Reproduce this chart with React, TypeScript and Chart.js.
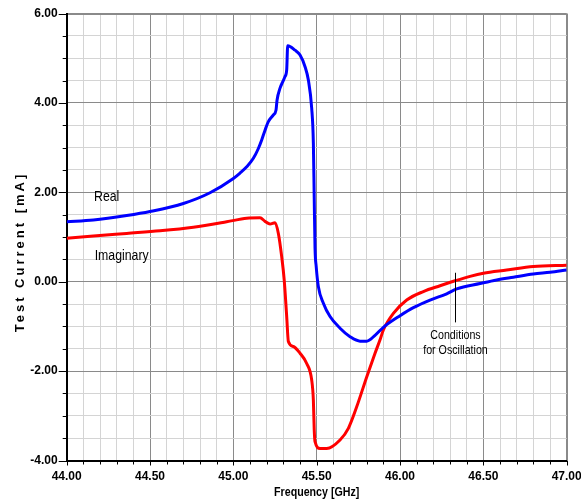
import React, { useEffect, useRef } from 'react';
import { Chart, registerables } from 'chart.js';
Chart.register(...registerables);

// Frequency axis [GHz]
const xMin = 44.0;
const xMax = 47.0;
const xStep = 0.1;
const xLabelStep = 0.5;
// Current axis [mA]
const yMin = -4.0;
const yMax = 6.0;
const yStep = 0.5;
const yLabelStep = 2.0;

// Real part
const realFreq = [44.00, 44.16, 44.36, 44.50, 44.70, 44.86, 45.00, 45.04, 45.08, 45.12, 45.15, 45.17, 45.19, 45.21, 45.24, 45.256, 45.262, 45.28, 45.296, 45.31, 45.32, 45.326, 45.37, 45.40, 45.43, 45.45, 45.47, 45.48, 45.485, 45.49, 45.497, 45.51, 45.54, 45.58, 45.64, 45.70, 45.76, 45.80, 45.85, 45.90, 46.00, 46.08, 46.18, 46.28, 46.34, 46.48, 46.58, 46.68, 46.80, 46.90, 47.00];
const realVals = [1.34, 1.38, 1.48, 1.57, 1.75, 1.99, 2.31, 2.43, 2.57, 2.76, 2.98, 3.17, 3.39, 3.58, 3.73, 3.84, 4.06, 4.33, 4.47, 4.59, 4.74, 5.28, 5.18, 5.07, 4.81, 4.51, 3.88, 3.10, 1.90, 0.75, 0.34, -0.11, -0.48, -0.78, -1.04, -1.23, -1.33, -1.33, -1.20, -1.02, -0.76, -0.58, -0.41, -0.27, -0.16, -0.04, 0.04, 0.10, 0.17, 0.21, 0.26];

// Imaginary part
const imagFreq = [44.00, 44.16, 44.36, 44.56, 44.76, 44.96, 45.08, 45.16, 45.19, 45.22, 45.25, 45.27, 45.29, 45.305, 45.32, 45.33, 45.36, 45.40, 45.44, 45.47, 45.48, 45.485, 45.49, 45.52, 45.56, 45.64, 45.69, 45.74, 45.80, 45.85, 45.88, 45.90, 45.96, 46.04, 46.14, 46.24, 46.33, 46.42, 46.50, 46.64, 46.80, 47.00];
const imagVals = [0.97, 1.02, 1.08, 1.14, 1.22, 1.34, 1.42, 1.43, 1.35, 1.29, 1.32, 1.08, 0.56, 0.04, -0.78, -1.34, -1.45, -1.60, -1.83, -2.20, -2.65, -3.30, -3.58, -3.73, -3.73, -3.54, -3.28, -2.80, -2.13, -1.60, -1.30, -1.08, -0.71, -0.41, -0.22, -0.09, 0.02, 0.12, 0.19, 0.26, 0.34, 0.37];

// Annotations (data coordinates)
const realLabel = { text: 'Real', f: 44.24, v: 1.90 };
const imagLabel = { text: 'Imaginary', f: 44.33, v: 0.575 };
const condLines = ['Conditions', 'for Oscillation'];
const condF = 46.33;
const condLineTop = 0.20;
const condLineBottom = -0.91;
const condTextV = [-1.21, -1.53];
const xTitle = 'Frequency [GHz]';
const yTitle = 'Test Current [mA]';

const SANS = "'Liberation Sans', Arial, sans-serif";
const NARROW_SCALE = 0.82;

const isMult = (v: number, m: number) => Math.abs(v / m - Math.round(v / m)) < 1e-6;

function narrowText(ctx: CanvasRenderingContext2D, text: string, x: number, y: number, font: string) {
  ctx.save();
  ctx.font = font;
  ctx.translate(x, y);
  ctx.scale(NARROW_SCALE, 1);
  ctx.textAlign = 'center';
  ctx.textBaseline = 'middle';
  ctx.fillText(text, 0, 0);
  ctx.restore();
}

export default function App() {
  const ref = useRef<HTMLCanvasElement | null>(null);
  useEffect(() => {
    if (!ref.current) return;
    const decor = {
      id: 'decor',
      afterDraw(chart: any) {
        const { ctx, chartArea: ca, scales } = chart;
        const x = scales.x;
        const y = scales.y;
        ctx.save();
        ctx.strokeStyle = '#000';
        ctx.lineWidth = 1;
        // tick marks
        y.ticks.forEach((t: any) => {
          const py = Math.round(y.getPixelForValue(t.value)) + 0.5;
          const len = isMult(t.value, yLabelStep) ? 8 : 4;
          ctx.beginPath();
          ctx.moveTo(ca.left - len, py);
          ctx.lineTo(ca.left, py);
          ctx.stroke();
        });
        x.ticks.forEach((t: any) => {
          const px = Math.round(x.getPixelForValue(t.value)) + 0.5;
          const len = isMult(t.value, xLabelStep) ? 5 : 4;
          ctx.beginPath();
          ctx.moveTo(px, ca.bottom);
          ctx.lineTo(px, ca.bottom + len);
          ctx.stroke();
        });
        ctx.fillStyle = '#000';
        // series labels
        narrowText(ctx, realLabel.text, x.getPixelForValue(realLabel.f), y.getPixelForValue(realLabel.v), `15px ${SANS}`);
        narrowText(ctx, imagLabel.text, x.getPixelForValue(imagLabel.f), y.getPixelForValue(imagLabel.v), `15px ${SANS}`);
        // conditions annotation
        const cx = Math.round(x.getPixelForValue(condF)) + 0.5;
        ctx.beginPath();
        ctx.moveTo(cx, y.getPixelForValue(condLineTop));
        ctx.lineTo(cx, y.getPixelForValue(condLineBottom));
        ctx.stroke();
        condLines.forEach((s, i) => narrowText(ctx, s, cx, y.getPixelForValue(condTextV[i]), `13px ${SANS}`));
        // axis titles
        narrowText(ctx, xTitle, (ca.left + ca.right) / 2, ca.bottom + 31.5, `bold 13px ${SANS}`);
        ctx.save();
        ctx.translate(20, (ca.top + ca.bottom) / 2 + 15);
        ctx.rotate(-Math.PI / 2);
        ctx.font = `bold 13px ${SANS}`;
        ctx.textAlign = 'center';
        ctx.textBaseline = 'middle';
        (ctx as any).letterSpacing = '3px';
        ctx.fillText(yTitle, 0, 0);
        ctx.restore();
        ctx.restore();
      },
    };

    const chart = new Chart(ref.current, {
      type: 'scatter',
      data: {
        datasets: [
          {
            label: 'Real',
            data: realFreq.map((f, i) => ({ x: f, y: realVals[i] })),
            borderColor: '#0000ff',
            backgroundColor: '#0000ff',
            borderWidth: 3,
            showLine: true,
            pointRadius: 0,
            cubicInterpolationMode: 'monotone',
          },
          {
            label: 'Imaginary',
            data: imagFreq.map((f, i) => ({ x: f, y: imagVals[i] })),
            borderColor: '#ff0000',
            backgroundColor: '#ff0000',
            borderWidth: 3,
            showLine: true,
            pointRadius: 0,
            cubicInterpolationMode: 'monotone',
          },
        ],
      },
      options: {
        animation: false,
        responsive: true,
        maintainAspectRatio: false,
        layout: { padding: { top: 13.5, right: 14.3, left: 0, bottom: 0 } },
        plugins: { legend: { display: false }, tooltip: { enabled: false } },
        scales: {
          x: {
            type: 'linear',
            min: xMin,
            max: xMax,
            afterFit: (s: any) => { s.height = 41.5; s.paddingLeft = 0; s.paddingRight = 0; },
            ticks: {
              stepSize: xStep,
              autoSkip: false,
              maxRotation: 0,
              padding: 9,
              color: '#000',
              font: { family: SANS, size: 12, weight: 'bold' },
              callback: (v: any) => (isMult(Number(v), xLabelStep) ? Number(v).toFixed(2) : ''),
            },
            grid: {
              drawTicks: false,
              color: (c: any) => (c.tick && isMult(c.tick.value, xLabelStep) ? '#8a8a8a' : '#d4d4d4'),
              lineWidth: (c: any) => (c.tick && Math.abs(c.tick.value - xMax) < 1e-6 ? 2 : 1),
            },
            border: { display: true, color: '#000', width: 2 },
          },
          y: {
            type: 'linear',
            min: yMin,
            max: yMax,
            afterFit: (s: any) => { s.width = 66.7; s.paddingTop = 0; s.paddingBottom = 0; },
            ticks: {
              stepSize: yStep,
              autoSkip: false,
              padding: 9,
              color: '#000',
              font: { family: SANS, size: 12, weight: 'bold' },
              callback: (v: any) => (isMult(Number(v), yLabelStep) ? Number(v).toFixed(2) : ''),
            },
            grid: {
              drawTicks: false,
              color: (c: any) => (c.tick && isMult(c.tick.value, yLabelStep) ? '#8a8a8a' : '#d4d4d4'),
              lineWidth: (c: any) => (c.tick && Math.abs(c.tick.value - yMax) < 1e-6 ? 2 : 1),
            },
            border: { display: true, color: '#000', width: 2 },
          },
        },
      },
      plugins: [decor],
    } as any);
    return () => chart.destroy();
  }, []);

  return (
    <div style={{ position: 'fixed', left: 0, top: 0, width: 581, height: 502, background: '#fff' }}>
      <canvas ref={ref} />
    </div>
  );
}
